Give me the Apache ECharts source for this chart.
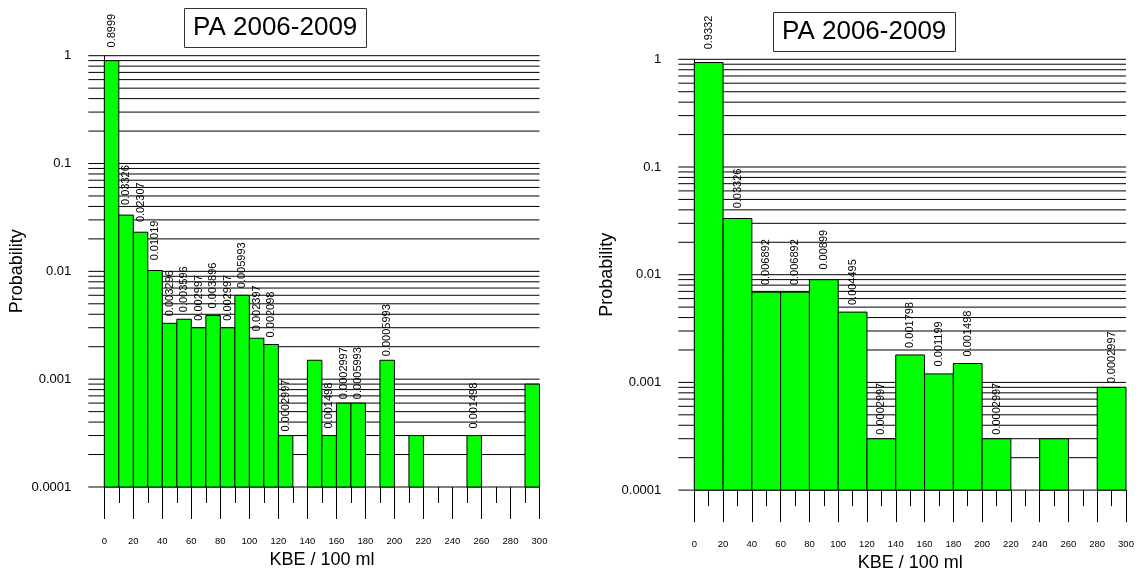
<!DOCTYPE html>
<html>
<head>
<meta charset="utf-8">
<title>PA 2006-2009</title>
<script src="https://cdn.jsdelivr.net/npm/echarts@6/dist/echarts.min.js"></script>
<style>
  html, body { margin: 0; padding: 0; background: #fff; }
  #chart { width: 1142px; height: 569px; }
</style>
</head>
<body>
<div id="chart"></div>
<script>
// Histogram of KBE / 100 ml counts, two binnings (10 and 20 wide), log probability scale.
const titleText = 'PA 2006-2009';
const xAxisName = 'KBE / 100 ml';
const yAxisName = 'Probability';

// Y tick labels per decade exponent
const yTickLabels = { '0': '1', '-1': '0.1', '-2': '0.01', '-3': '0.001', '-4': '0.0001' };

// Left panel: bins of width 10 from 0 to 300
const leftBinWidth = 10;
const leftValues = [0.8999, 0.03326, 0.02307, 0.01019, 0.003296, 0.003596, 0.002997, 0.003896,
  0.002997, 0.005993, 0.002397, 0.002098, 0.0002997, 0, 0.001498, 0.0002997, 0.0005993,
  0.0005993, 0, 0.001498, 0, 0.0002997, 0, 0, 0, 0.0002997, 0, 0, 0, 0.0008991];
const leftLabels = ['0.8999', '0.03326', '0.02307', '0.01019', '0.003296', '0.003596', '0.002997',
  '0.003896', '0.002997', '0.005993', '0.002397', '0.002098', '0.0002997', '', '', '0.001498',
  '0.0002997', '0.0005993', '', '0.0005993', '', '', '', '', '', '0.001498', '', '', '', ''];

// Right panel: bins of width 20 from 0 to 300
const rightBinWidth = 20;
const rightValues = [0.9332, 0.03326, 0.006892, 0.006892, 0.00899, 0.004495, 0.0002997,
  0.001798, 0.001199, 0.001498, 0.0002997, 0, 0.0002997, 0, 0.0008991];
const rightLabels = ['0.9332', '0.03326', '0.006892', '0.006892', '0.00899', '0.004495',
  '0.0002997', '0.001798', '0.001199', '0.001498', '0.0002997', '', '', '', '0.0002997'];

const X_MIN = 0, X_MAX = 300, Y_MIN = 0.0001, Y_MAX = 1;
const FONT = '"Liberation Sans", Arial, sans-serif';
const NARROW = '"Liberation Sans Narrow", "Liberation Sans", Arial, sans-serif';

// Horizontal rules at every 1..9 x 10^k between the axis limits
const gridLevels = [];
for (let e = -4; e < 0; e++) {
  for (let m = 1; m <= 9; m++) gridLevels.push(m * Math.pow(10, e));
}
gridLevels.push(1);

// Non-empty bins as [start, end, probability], with their label texts alongside
function binData(values, labels, width) {
  const data = [], texts = [];
  values.forEach((v, i) => {
    if (v > 0) {
      data.push([i * width, (i + 1) * width, v]);
      texts.push(labels[i]);
    }
  });
  return { data, texts };
}

function renderRules(params, api) {
  const v = api.value(1);
  const left = api.coord([X_MIN, v]);
  const right = api.coord([X_MAX, v]);
  return {
    type: 'line',
    shape: { x1: left[0] - 16, y1: left[1], x2: right[0], y2: right[1] },
    style: { stroke: '#000', lineWidth: 1 }
  };
}

function makeBinRenderer(texts) {
  return function (params, api) {
    const x0 = api.value(0), x1 = api.value(1), v = api.value(2);
    const label = texts[params.dataIndex];
    const tl = api.coord([x0, v]);
    const br = api.coord([x1, Y_MIN]);
    const children = [{
      type: 'rect',
      shape: { x: tl[0], y: tl[1], width: br[0] - tl[0], height: br[1] - tl[1] },
      style: { fill: '#00ff00', stroke: '#000', lineWidth: 1 }
    }];
    if (label) {
      children.push({
        type: 'text',
        x: (tl[0] + br[0]) / 2,
        y: tl[1] - 30,
        rotation: Math.PI / 2,
        style: {
          text: label, fill: '#000', fontSize: 11, fontFamily: FONT,
          align: 'center', verticalAlign: 'middle'
        }
      });
    }
    return { type: 'group', children: children };
  };
}

function xAxisOf(gridIndex, nameGap) {
  return {
    gridIndex: gridIndex, type: 'value', min: X_MIN, max: X_MAX, interval: 20,
    name: xAxisName, nameLocation: 'middle', nameGap: nameGap,
    nameTextStyle: { fontSize: 18, fontFamily: FONT, color: '#000' },
    axisLine: { show: false },
    axisTick: { show: true, length: 32, lineStyle: { color: '#000', width: 1 } },
    minorTick: { show: true, splitNumber: 2, length: 16, lineStyle: { color: '#000', width: 1 } },
    splitLine: { show: false },
    minorSplitLine: { show: false },
    axisLabel: { margin: 49, fontSize: 9.5, fontFamily: NARROW, color: '#000' }
  };
}

function yAxisOf(gridIndex) {
  return {
    gridIndex: gridIndex, type: 'log', logBase: 10, min: Y_MIN, max: Y_MAX,
    name: yAxisName, nameLocation: 'middle', nameGap: 78,
    nameTextStyle: { fontSize: 18, fontFamily: FONT, color: '#000' },
    axisLine: { show: true, lineStyle: { color: '#000', width: 1 } },
    axisTick: { show: false },
    splitLine: { show: false },
    axisLabel: {
      margin: 33, fontSize: 13, fontFamily: FONT, color: '#000',
      formatter: v => yTickLabels[String(Math.round(Math.log10(v)))] || ''
    }
  };
}

const titleStyle = { fontSize: 26, fontWeight: 'normal', fontFamily: FONT, color: '#000' };
const leftBins = binData(leftValues, leftLabels, leftBinWidth);
const rightBins = binData(rightValues, rightLabels, rightBinWidth);

const chart = echarts.init(document.getElementById('chart'), null, { renderer: 'canvas' });
chart.setOption({
  animation: false,
  backgroundColor: '#fff',
  title: [
    { text: titleText, left: 184, top: 8, padding: [7, 9], borderWidth: 1, borderColor: '#333', textStyle: titleStyle },
    { text: titleText, left: 773, top: 12, padding: [7, 9], borderWidth: 1, borderColor: '#333', textStyle: titleStyle }
  ],
  grid: [
    { left: 104.3, right: 602.5, top: 55.7, height: 431.3, containLabel: false, outerBoundsMode: 'none' },
    { left: 694.3, right: 16, top: 59.3, height: 430.8, containLabel: false, outerBoundsMode: 'none' }
  ],
  xAxis: [xAxisOf(0, 61), xAxisOf(1, 59)],
  yAxis: [yAxisOf(0), yAxisOf(1)],
  series: [
    { type: 'custom', xAxisIndex: 0, yAxisIndex: 0, z: 1, silent: true,
      data: gridLevels.map(v => [X_MIN, v]), encode: { x: 0, y: 1 }, renderItem: renderRules },
    { type: 'custom', xAxisIndex: 1, yAxisIndex: 1, z: 1, silent: true,
      data: gridLevels.map(v => [X_MIN, v]), encode: { x: 0, y: 1 }, renderItem: renderRules },
    { type: 'custom', xAxisIndex: 0, yAxisIndex: 0, z: 3,
      data: leftBins.data, encode: { x: [0, 1], y: 2 }, renderItem: makeBinRenderer(leftBins.texts) },
    { type: 'custom', xAxisIndex: 1, yAxisIndex: 1, z: 3,
      data: rightBins.data, encode: { x: [0, 1], y: 2 }, renderItem: makeBinRenderer(rightBins.texts) }
  ]
});
</script>
</body>
</html>
